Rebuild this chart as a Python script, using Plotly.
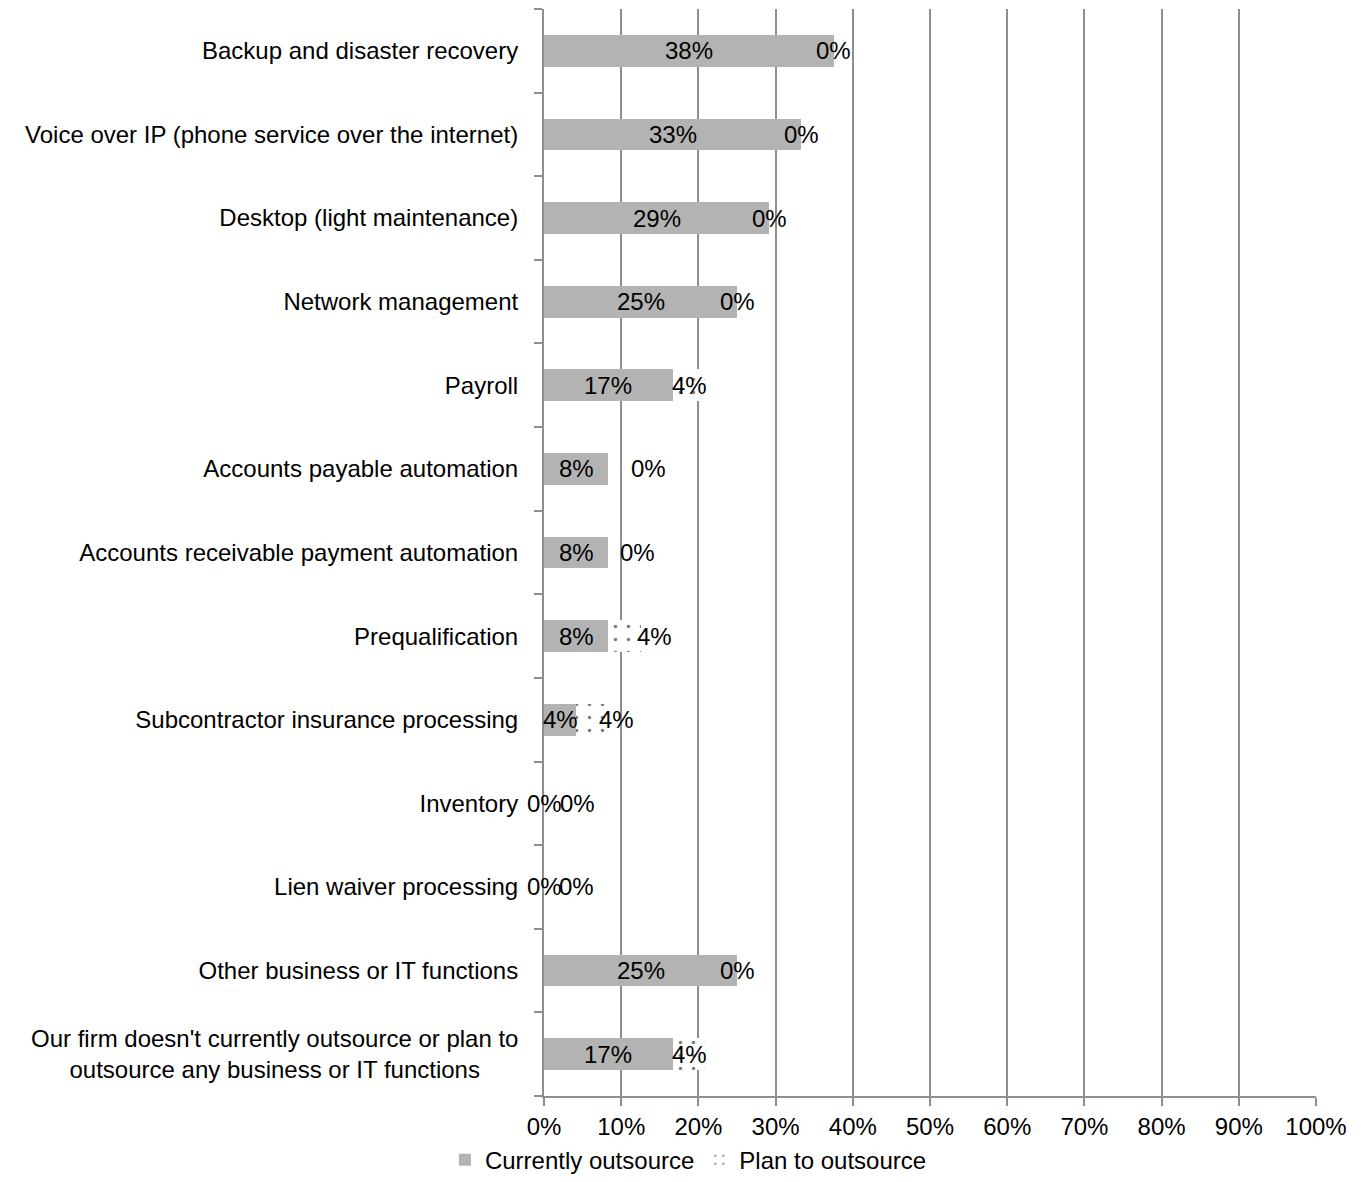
import plotly.graph_objects as go

categories = [
    "Backup and disaster recovery",
    "Voice over IP (phone service over the internet)",
    "Desktop (light maintenance)",
    "Network management",
    "Payroll",
    "Accounts payable automation",
    "Accounts receivable payment automation",
    "Prequalification",
    "Subcontractor insurance processing",
    "Inventory",
    "Lien waiver processing",
    "Other business or IT functions",
    "Our firm doesn't currently outsource or plan to<br>outsource any business or IT functions",
]
currently = [37.5, 33.3, 29.2, 25.0, 16.7, 8.3, 8.3, 8.3, 4.2, 0.0, 0.0, 25.0, 16.7]
plan = [0.0, 0.0, 0.0, 0.0, 4.2, 0.0, 0.0, 4.2, 4.2, 0.0, 0.0, 0.0, 4.2]
x_ticks = [0, 10, 20, 30, 40, 50, 60, 70, 80, 90, 100]

# pixel nudges for the "plan" data labels (style only)
plan_label_nudge = [0, 0, 0, 0, 0, 40, 29, 30, 24, 33, 32, 0, 0]

FONT = "Liberation Sans"
FS = 24
GRID = "#8e8e8e"

fig = go.Figure()
fig.add_trace(go.Bar(
    y=categories, x=currently, orientation="h", name="Currently outsource",
    marker=dict(color="#b3b3b3", line=dict(width=0)), width=0.38,
))
fig.add_trace(go.Bar(
    y=categories, x=plan, orientation="h", name="Plan to outsource",
    marker=dict(color="white", line=dict(width=0),
                pattern=dict(shape=".", fgcolor="black", bgcolor="white",
                             size=13, solidity=0.06)),
    width=0.38,
))

annotations = []
for i, cat in enumerate(categories):
    annotations.append(dict(
        x=currently[i] / 2, y=cat, xref="x", yref="y",
        text=f"{currently[i]:.0f}%", showarrow=False,
        font=dict(family=FONT, size=FS, color="black"),
    ))
    annotations.append(dict(
        x=currently[i] + plan[i] / 2, y=cat, xref="x", yref="y",
        text=f"{plan[i]:.0f}%", showarrow=False, xshift=plan_label_nudge[i],
        font=dict(family=FONT, size=FS, color="black"),
    ))

# centered two-line label for the last category
annotations.append(dict(
    x=0, y=categories[-1], xref="paper", yref="y", xanchor="right",
    xshift=-24, align="center", showarrow=False,
    text=categories[-1], font=dict(family=FONT, size=FS, color="black"),
))

fig.update_layout(
    barmode="stack",
    width=1350, height=1166,
    margin=dict(l=536, r=42, t=1, b=78, autoexpand=False),
    paper_bgcolor="white", plot_bgcolor="white",
    font=dict(family=FONT, size=FS, color="black"),
    annotations=annotations,
    showlegend=True,
    legend=dict(orientation="h", xref="container", yref="paper",
                x=0.504, y=-0.059, xanchor="center", yanchor="middle",
                traceorder="normal", bgcolor="rgba(0,0,0,0)",
                font=dict(family=FONT, size=FS, color="black"),
                itemwidth=30, tracegroupgap=0),
)
fig.update_xaxes(
    range=[0, 100], tickvals=x_ticks, ticktext=[f"{v}%" for v in x_ticks],
    showgrid=True, gridcolor=GRID, gridwidth=2,
    showline=True, linecolor=GRID, linewidth=2,
    ticks="outside", ticklen=8, tickcolor=GRID, tickwidth=2,
    zeroline=False, automargin=False,
    tickfont=dict(family=FONT, size=FS, color="black"),
)
fig.update_yaxes(
    autorange="reversed", type="category",
    tickvals=categories,
    ticktext=[c if i < len(categories) - 1 else "" for i, c in enumerate(categories)],
    tickson="boundaries", ticks="outside", ticklen=8, tickcolor=GRID, tickwidth=2,
    showline=True, linecolor=GRID, linewidth=2, showgrid=False,
    ticklabelstandoff=19, automargin=False,
    tickfont=dict(family=FONT, size=FS, color="black"),
)

fig.write_html("out.html")
